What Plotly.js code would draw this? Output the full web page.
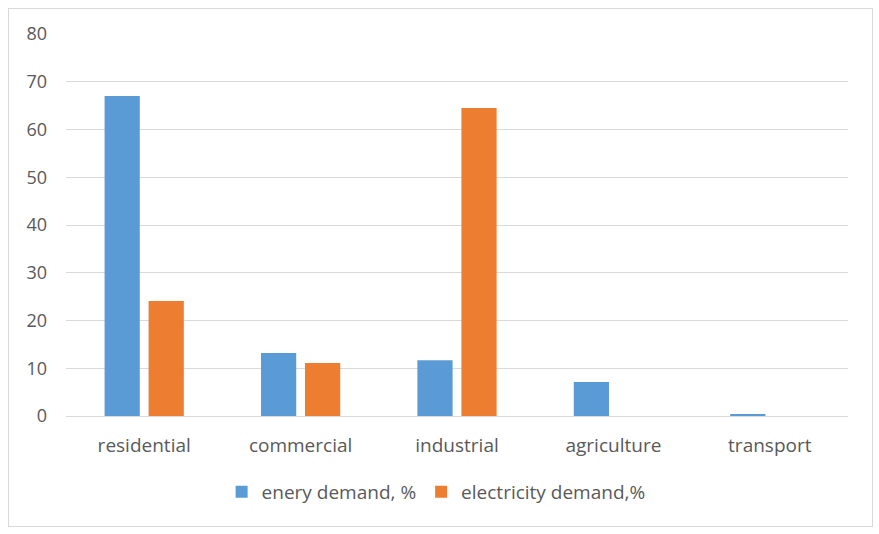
<!DOCTYPE html>
<html>
<head>
<meta charset="utf-8">
<script src="https://cdn.plot.ly/plotly-3.0.1.min.js"></script>
<style>
html,body{margin:0;padding:0;background:#fff;}
#wrap{position:relative;width:879px;height:534px;}
#chart{position:absolute;left:0;top:0;width:879px;height:534px;}
#frame{position:absolute;left:8px;top:8px;width:863px;height:517px;border:1px solid #d9d9d9;pointer-events:none;}
</style>
</head>
<body>
<div id="wrap"><div id="chart"></div><div id="frame"></div></div>
<script>
const categories = ["residential", "commercial", "industrial", "agriculture", "transport"];
const energyDemand = [67.0, 13.2, 11.7, 7.1, 0.4];
const electricityDemand = [24.1, 11.1, 64.5, 0, 0];
const yTicks = [0, 10, 20, 30, 40, 50, 60, 70, 80];

const fam = "'Open Sans', Lato, sans-serif";
const yFont = {family: fam, size: 18, color: "#595959"};
const xFont = {family: fam, size: 19, color: "#595959"};

const data = [
  {type: "bar", name: "enery demand, %", x: categories, y: energyDemand, marker: {color: "#5b9bd5"}, hoverinfo: "none"},
  {type: "bar", name: "electricity demand,%", x: categories, y: electricityDemand, marker: {color: "#ed7d31"}, hoverinfo: "none"}
];

const layout = {
  width: 879, height: 534,
  margin: {l: 66, r: 31, t: 34, b: 118},
  paper_bgcolor: "#fff", plot_bgcolor: "#fff",
  font: xFont,
  barmode: "group", bargap: 0.437, bargroupgap: 0.2,
  showlegend: true,
  legend: {orientation: "h", x: 0.199, xanchor: "left", y: -0.199, yanchor: "middle", font: xFont, traceorder: "normal"},
  xaxis: {showgrid: false, showline: true, linecolor: "#d9d9d9", linewidth: 1, ticks: "", tickfont: xFont, ticklabelstandoff: 12},
  yaxis: {range: [0, 80], tickvals: yTicks, showgrid: true, gridcolor: "#d9d9d9", gridwidth: 1, zeroline: false, showline: false, ticks: "", tickfont: yFont, ticklabelstandoff: 18}
};

Plotly.newPlot("chart", data, layout, {displayModeBar: false, staticPlot: true});
</script>
</body>
</html>
